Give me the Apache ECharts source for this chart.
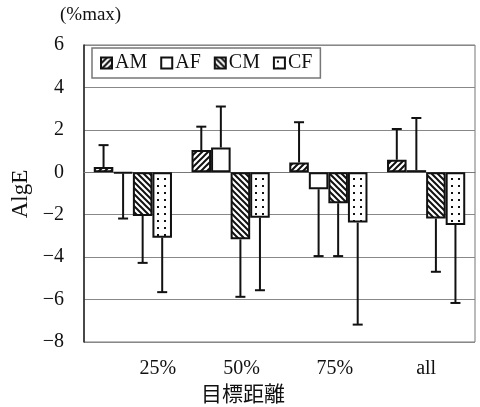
<!DOCTYPE html>
<html><head><meta charset="utf-8">
<script src="https://cdn.jsdelivr.net/npm/echarts@6/dist/echarts.min.js"></script>
<style>html,body{margin:0;padding:0;background:#fff}#c{width:480px;height:407px}</style>
</head><body><div id="c"></div>
<script>
const categories = ['25%', '50%', '75%', 'all'];
const seriesNames = ['AM', 'AF', 'CM', 'CF'];
const AM = [0.25, 1.05, 0.46, 0.59];
const AF = [-0.05, 1.17, -0.80, 0.10];
const CM = [-2.06, -3.16, -1.46, -2.18];
const CF = [-3.08, -2.14, -2.37, -2.48];
const AM_sd = [1.03, 1.10, 1.90, 1.45];
const AF_sd = [2.13, 1.93, 3.15, 2.46];
const CM_sd = [2.21, 2.71, 2.49, 2.51];
const CF_sd = [2.57, 3.42, 4.81, 3.68];
const yTicks = [-8, -6, -4, -2, 0, 2, 4, 6];

function makePattern(kind) {
  const s = kind === 'dots' ? 7 : 6;
  const c = document.createElement('canvas');
  c.width = s; c.height = s;
  const g = c.getContext('2d');
  g.fillStyle = '#fff'; g.fillRect(0, 0, s, s);
  g.strokeStyle = '#111'; g.fillStyle = '#111'; g.lineWidth = 2;
  if (kind === 'fwd') {
    g.beginPath();
    g.moveTo(-1, s + 1); g.lineTo(s + 1, -1);
    g.moveTo(-1, 1); g.lineTo(1, -1);
    g.moveTo(s - 1, s + 1); g.lineTo(s + 1, s - 1);
    g.stroke();
  } else if (kind === 'back') {
    g.beginPath();
    g.moveTo(-1, -1); g.lineTo(s + 1, s + 1);
    g.moveTo(s - 1, -1); g.lineTo(s + 1, 1);
    g.moveTo(-1, s - 1); g.lineTo(1, s + 1);
    g.stroke();
  } else if (kind === 'dots') {
    g.fillRect(3, 3, 2, 2);
  }
  return c;
}

const means = [AM, AF, CM, CF];
const sds = [AM_sd, AF_sd, CM_sd, CF_sd];
const fills = [
  { image: makePattern('fwd'), repeat: 'repeat' },
  '#ffffff',
  { image: makePattern('back'), repeat: 'repeat' },
  { image: makePattern('dots'), repeat: 'repeat' }
];

const chart = echarts.init(document.getElementById('c'), null, { renderer: 'canvas' });
const serif = 'Liberation Serif';

const series = [];
seriesNames.forEach((n, i) => {
  series.push({
    name: n, type: 'bar', data: means[i],
    barGap: '0%', barCategoryGap: '20%',
    itemStyle: { color: fills[i], borderColor: '#111', borderWidth: 2 },
    emphasis: { disabled: true }, z: 2
  });
});
seriesNames.forEach((n, i) => {
  series.push({
    type: 'custom', name: n + '_err', z: 3,
    data: means[i].map((m, k) => [k, m, m >= 0 ? m + sds[i][k] : m - sds[i][k]]),
    renderItem: function (params, api) {
      const k = api.value(0);
      const p0 = api.coord([k, api.value(1)]);
      const p1 = api.coord([k, api.value(2)]);
      const band = api.size([1, 0])[0];
      const x = p0[0] + (i - 1.5) * 0.2 * band;
      const cap = 5;
      return {
        type: 'group',
        children: [
          { type: 'line', shape: { x1: x, y1: p0[1], x2: x, y2: p1[1] }, style: { stroke: '#111', lineWidth: 2 } },
          { type: 'line', shape: { x1: x - cap, y1: p1[1], x2: x + cap, y2: p1[1] }, style: { stroke: '#111', lineWidth: 2 } }
        ]
      };
    }
  });
});

// per-label horizontal nudges (label text sits off-centre in the original)
const labelRich = {
  l0: { fontFamily: serif, fontSize: 20, color: '#111', padding: [0, 0, 0, 50] },
  l1: { fontFamily: serif, fontSize: 20, color: '#111', padding: [0, 0, 0, 22] },
  l2: { fontFamily: serif, fontSize: 20, color: '#111', padding: [0, 0, 0, 13] },
  l3: { fontFamily: serif, fontSize: 20, color: '#111', padding: [0, 0, 0, 0] }
};

chart.setOption({
  animation: false,
  backgroundColor: '#fff',
  grid: { left: 84, right: 5, top: 45, bottom: 65, show: true, borderColor: '#777', borderWidth: 1 },
  legend: {
    data: seriesNames, left: 92, top: 48, orient: 'horizontal',
    backgroundColor: '#fff', borderColor: '#777', borderWidth: 1.5,
    padding: [5, 8, 5, 8], itemGap: 13, itemWidth: 11, itemHeight: 11, icon: 'rect',
    textStyle: { fontFamily: serif, fontSize: 20, color: '#111', padding: [0, 0, 0, -2] }
  },
  xAxis: {
    type: 'category', data: categories,
    axisLine: { show: true, lineStyle: { color: '#777' } },
    axisTick: { show: false },
    axisLabel: { fontFamily: serif, fontSize: 20, color: '#111', margin: 17, interval: 0, hideOverlap: false,
      formatter: (v, idx) => '{l' + idx + '|' + v + '}', rich: labelRich },
    position: 'bottom'
  },
  yAxis: {
    type: 'value', min: yTicks[0], max: yTicks[yTicks.length - 1], interval: 2,
    axisLine: { show: true, onZero: false, lineStyle: { color: '#222', width: 1.5 } },
    axisTick: { show: false },
    splitLine: { lineStyle: { color: '#888', width: 1 } },
    axisLabel: { fontFamily: serif, fontSize: 20, color: '#111', margin: 20,
      formatter: v => String(v).replace('-', '\u2212') }
  },
  graphic: [
    { type: 'text', left: 60, top: 6, style: { text: '(%max)', font: '19px "Liberation Serif"', fill: '#111' } },
    { type: 'text', x: 21, y: 194, rotation: Math.PI / 2,
      style: { text: 'AlgE', font: '23px "Liberation Serif"', fill: '#111', textAlign: 'center', textVerticalAlign: 'middle' } },
    { type: 'text', x: 243, y: 393,
      style: { text: '目標距離', font: '21px "Noto Sans CJK JP"', fill: '#111', textAlign: 'center', textVerticalAlign: 'middle' } }
  ],
  series: series
});
</script></body></html>
